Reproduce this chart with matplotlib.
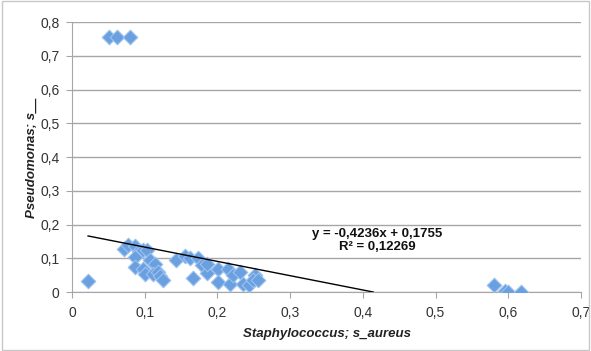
import matplotlib
matplotlib.use("Agg")
import matplotlib.pyplot as plt
from matplotlib.ticker import FuncFormatter
import numpy as np

plt.rcParams['font.family'] = ['Liberation Sans', 'DejaVu Sans']

staph = [0.022, 0.071, 0.077, 0.086, 0.092, 0.086, 0.098, 0.103, 0.086, 0.097,
         0.100, 0.107, 0.114, 0.111, 0.118, 0.121, 0.125, 0.143, 0.155, 0.162,
         0.167, 0.173, 0.179, 0.185, 0.185, 0.201, 0.201, 0.215, 0.217, 0.222,
         0.231, 0.235, 0.244, 0.251, 0.249, 0.256, 0.051, 0.062, 0.080,
         0.581, 0.595, 0.599, 0.617]
pseudo = [0.033, 0.129, 0.139, 0.136, 0.121, 0.104, 0.126, 0.124, 0.074, 0.069,
          0.052, 0.094, 0.082, 0.052, 0.059, 0.047, 0.035, 0.094, 0.106, 0.102,
          0.043, 0.102, 0.079, 0.056, 0.084, 0.069, 0.030, 0.069, 0.025, 0.050,
          0.059, 0.025, 0.020, 0.050, 0.035, 0.035, 0.755, 0.755, 0.755,
          0.020, 0.003, 0.000, 0.000]
slope = -0.4236
intercept = 0.1755
trend_x = [0.022, -intercept / slope]
eq_text = "y = -0,4236x + 0,1755\nR² = 0,12269"

fig = plt.figure(figsize=(5.91, 3.51), dpi=100)
fig.patch.set_facecolor('white')
border = plt.Rectangle((0.004, 0.004), 0.992, 0.992, transform=fig.transFigure,
                       fill=False, edgecolor='#c8c8c8', linewidth=1)
fig.patches.append(border)
ax = fig.add_axes([0.122, 0.168, 0.861, 0.769])

ax.set_xlim(0, 0.7)
ax.set_ylim(0, 0.8)
ax.set_xticks(np.arange(0, 0.71, 0.1))
ax.set_yticks(np.arange(0, 0.81, 0.1))
fmt = FuncFormatter(lambda v, p: ('%g' % round(v, 2)).replace('.', ','))
ax.xaxis.set_major_formatter(fmt)
ax.yaxis.set_major_formatter(fmt)
ax.grid(axis='y', color='#a6a6a6', linewidth=1)
ax.set_axisbelow(True)
for s in ['top', 'right']:
    ax.spines[s].set_visible(False)
for s in ['left', 'bottom']:
    ax.spines[s].set_color('#a6a6a6')
ax.tick_params(axis='both', colors='#a6a6a6', labelcolor='#333333', labelsize=10,
               length=4, direction='out')
ax.tick_params(axis='y', pad=5)
ax.tick_params(axis='x', pad=6)

ax.scatter(staph, pseudo, marker='D', s=55, facecolor='#6a9fe0', edgecolor='#9cc2ee',
           linewidth=0.8, zorder=3)
ty = [slope * x + intercept for x in trend_x]
ax.plot(trend_x, ty, color='black', linewidth=1, zorder=4)
ax.text(0.42, 0.153, eq_text, ha='center', va='center', fontsize=9.5,
        fontweight='bold', linespacing=1.15, color='#111111')

ax.set_xlabel('Staphylococcus; s_aureus', fontsize=9.5, fontweight='bold',
              fontstyle='italic', color='#222222', labelpad=6)
ax.set_ylabel('Pseudomonas; s__', fontsize=9.5, fontweight='bold',
              fontstyle='italic', color='#222222')
ax.yaxis.set_label_coords(-0.068, 0.5)

fig.savefig('out.png', dpi=100)
